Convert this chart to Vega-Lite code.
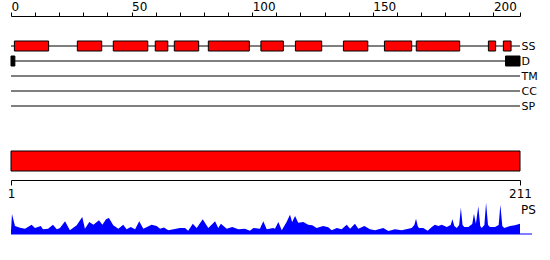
{
  "$schema": "https://vega.github.io/schema/vega-lite/v6.json",
  "autosize": {"type": "pad"},
  "padding": {"left": 7, "top": 0, "right": 0, "bottom": 0},
  "background": "white",
  "spacing": 2,
  "config": {
    "view": {"stroke": null},
    "font": "DejaVu Sans",
    "axis": {"domainColor": "black", "tickColor": "black", "labelColor": "black", "grid": false, "title": null, "labelFont": "DejaVu Sans", "labelOverlap": false},
    "axisTop": {"labelOverlap": false}
  },
  "resolve": {"scale": {"x": "independent", "y": "independent"}},
  "datasets": {
    "tracks": [
      {"track": "SS"}, {"track": "D"}, {"track": "TM"}, {"track": "CC"}, {"track": "SP"}
    ],
    "features": [
      {"track": "SS", "kind": "helix", "start": 1.4, "end": 15.6},
      {"track": "SS", "kind": "helix", "start": 27.5, "end": 37.6},
      {"track": "SS", "kind": "helix", "start": 42.4, "end": 56.7},
      {"track": "SS", "kind": "helix", "start": 59.8, "end": 65.0},
      {"track": "SS", "kind": "helix", "start": 67.7, "end": 77.8},
      {"track": "SS", "kind": "helix", "start": 81.8, "end": 98.8},
      {"track": "SS", "kind": "helix", "start": 103.6, "end": 112.9},
      {"track": "SS", "kind": "helix", "start": 117.9, "end": 128.8},
      {"track": "SS", "kind": "helix", "start": 137.8, "end": 147.9},
      {"track": "SS", "kind": "helix", "start": 154.8, "end": 166.1},
      {"track": "SS", "kind": "helix", "start": 168.0, "end": 186.0},
      {"track": "SS", "kind": "helix", "start": 197.9, "end": 200.9},
      {"track": "SS", "kind": "helix", "start": 204.1, "end": 207.3},
      {"track": "D", "kind": "disorder", "start": 0, "end": 1.6},
      {"track": "D", "kind": "disorder", "start": 205, "end": 211}
    ],
    "protein": [{"start": 1, "end": 211}],
    "ps": [
      {"pos": 1, "h": 3}, {"pos": 1.4, "h": 20}, {"pos": 2.65, "h": 8}, {"pos": 4.7, "h": 6.3},
      {"pos": 6.8, "h": 5.3}, {"pos": 9.5, "h": 9.3}, {"pos": 10.9, "h": 6}, {"pos": 13.3, "h": 8},
      {"pos": 14.2, "h": 4.7}, {"pos": 16.3, "h": 5.3}, {"pos": 18.3, "h": 9.3}, {"pos": 19.9, "h": 4.7},
      {"pos": 21.2, "h": 6}, {"pos": 23.3, "h": 12.7}, {"pos": 25.3, "h": 3.7}, {"pos": 28.1, "h": 8.7},
      {"pos": 30.4, "h": 17}, {"pos": 31.5, "h": 5.3}, {"pos": 33.3, "h": 12}, {"pos": 35.0, "h": 9.3},
      {"pos": 37.3, "h": 13.7}, {"pos": 38.7, "h": 9.3}, {"pos": 40.2, "h": 14.7}, {"pos": 41.4, "h": 16},
      {"pos": 43.2, "h": 8.7}, {"pos": 45.3, "h": 5.3}, {"pos": 47.3, "h": 9.3}, {"pos": 48.7, "h": 4.7},
      {"pos": 50.4, "h": 7}, {"pos": 52.2, "h": 4.7}, {"pos": 53.9, "h": 12.7}, {"pos": 55.6, "h": 5.3},
      {"pos": 59.0, "h": 9.3}, {"pos": 61.1, "h": 8}, {"pos": 62.5, "h": 5.3}, {"pos": 64.1, "h": 6.5},
      {"pos": 65.9, "h": 3.7}, {"pos": 70.7, "h": 6}, {"pos": 72.8, "h": 6}, {"pos": 74.1, "h": 3.3},
      {"pos": 76.0, "h": 10.3}, {"pos": 77.6, "h": 6}, {"pos": 80.1, "h": 14.7}, {"pos": 82.4, "h": 6},
      {"pos": 85.2, "h": 12.7}, {"pos": 86.5, "h": 6}, {"pos": 87.6, "h": 10.3}, {"pos": 90.0, "h": 5.3},
      {"pos": 92.3, "h": 7}, {"pos": 94.8, "h": 4.7}, {"pos": 97.5, "h": 5.3}, {"pos": 99.6, "h": 3.3},
      {"pos": 101.0, "h": 6}, {"pos": 103.7, "h": 5.3}, {"pos": 105.1, "h": 12.7}, {"pos": 106.5, "h": 4.7},
      {"pos": 109.2, "h": 6}, {"pos": 109.9, "h": 5.3}, {"pos": 111.3, "h": 12}, {"pos": 112.7, "h": 3.7},
      {"pos": 114.7, "h": 12}, {"pos": 116.1, "h": 19.3}, {"pos": 117.0, "h": 12}, {"pos": 118.2, "h": 18},
      {"pos": 119.5, "h": 11.3}, {"pos": 121.6, "h": 12}, {"pos": 123.6, "h": 9.3}, {"pos": 125.3, "h": 8.7},
      {"pos": 127.1, "h": 6}, {"pos": 129.8, "h": 8}, {"pos": 131.9, "h": 6.7}, {"pos": 133.3, "h": 3.7},
      {"pos": 135.4, "h": 6}, {"pos": 137.4, "h": 4.7}, {"pos": 139.5, "h": 9.3}, {"pos": 140.9, "h": 5.3},
      {"pos": 142.9, "h": 10.3}, {"pos": 144.3, "h": 5.3}, {"pos": 146.8, "h": 8}, {"pos": 149.1, "h": 4.7},
      {"pos": 151.2, "h": 3.7}, {"pos": 154.6, "h": 6}, {"pos": 156.7, "h": 3}, {"pos": 159.4, "h": 4.7},
      {"pos": 162.2, "h": 3.7}, {"pos": 164.9, "h": 5.3}, {"pos": 166.3, "h": 6}, {"pos": 167.4, "h": 9},
      {"pos": 168.1, "h": 15.3}, {"pos": 168.8, "h": 8}, {"pos": 169.3, "h": 6}, {"pos": 171.1, "h": 6},
      {"pos": 172.9, "h": 3.3}, {"pos": 174.6, "h": 7}, {"pos": 175.9, "h": 9.3}, {"pos": 177.3, "h": 8},
      {"pos": 178.7, "h": 9.3}, {"pos": 180.8, "h": 7}, {"pos": 182.4, "h": 9}, {"pos": 183.1, "h": 14.7},
      {"pos": 183.9, "h": 8}, {"pos": 184.9, "h": 6}, {"pos": 185.9, "h": 9}, {"pos": 186.6, "h": 26.3},
      {"pos": 187.3, "h": 9}, {"pos": 188.0, "h": 7}, {"pos": 189.7, "h": 7}, {"pos": 191.3, "h": 10},
      {"pos": 192.0, "h": 20.3}, {"pos": 192.8, "h": 10.3}, {"pos": 193.8, "h": 27.7}, {"pos": 194.6, "h": 8},
      {"pos": 195.2, "h": 6}, {"pos": 196.3, "h": 9}, {"pos": 197.0, "h": 31.3}, {"pos": 197.8, "h": 9},
      {"pos": 198.6, "h": 7}, {"pos": 200.7, "h": 7}, {"pos": 202.2, "h": 9}, {"pos": 202.9, "h": 29.3},
      {"pos": 203.7, "h": 8}, {"pos": 204.5, "h": 6}, {"pos": 206.9, "h": 8}, {"pos": 208.9, "h": 8.7},
      {"pos": 211, "h": 10.3}
    ],
    "pslabel": [{"label": "PS"}]
  },
  "vconcat": [
    {
      "width": 509,
      "height": 132,
      "layer": [
        {
          "data": {"name": "tracks"},
          "mark": {"type": "rule", "color": "black", "strokeWidth": 1},
          "encoding": {
            "x": {"datum": 0, "type": "quantitative",
              "scale": {"domain": [0, 211], "nice": false, "zero": false},
              "axis": {"orient": "top", "values": [0,10,20,30,40,50,60,70,80,90,100,110,120,130,140,150,160,170,180,190,200,211],
                "labelExpr": "datum.value % 50 == 0 ? datum.label : ''",
                "labelAlign": "left", "labelPadding": -1, "tickSize": 4, "labelFontSize": 12,
                "labelOverlap": false, "labelFlush": false, "labelBound": false, "domainWidth": 1}},
            "x2": {"datum": 211},
            "y": {"field": "track", "type": "nominal",
              "scale": {"type": "point", "domain": ["SS", "D", "TM", "CC", "SP"], "range": [30, 90], "padding": 0},
              "axis": {"orient": "right", "ticks": false, "domain": false, "labelPadding": 1, "labelFontSize": 11}}
          }
        },
        {
          "data": {"name": "features"},
          "mark": {"type": "bar", "height": 10, "stroke": "black", "strokeWidth": 1},
          "encoding": {
            "x": {"field": "start", "type": "quantitative", "scale": {"domain": [0, 211], "nice": false, "zero": false},
              "axis": {"orient": "top", "values": [0,10,20,30,40,50,60,70,80,90,100,110,120,130,140,150,160,170,180,190,200,211],
                "labelExpr": "datum.value % 50 == 0 ? datum.label : ''",
                "labelAlign": "left", "labelPadding": -1, "tickSize": 4, "labelFontSize": 12,
                "labelOverlap": false, "labelFlush": false, "labelBound": false, "domainWidth": 1}},
            "x2": {"field": "end"},
            "y": {"field": "track", "type": "nominal",
              "scale": {"type": "point", "domain": ["SS", "D", "TM", "CC", "SP"], "range": [30, 90], "padding": 0}},
            "color": {"field": "kind", "type": "nominal",
              "scale": {"domain": ["helix", "disorder"], "range": ["#ff0000", "#000000"]}, "legend": null}
          }
        }
      ]
    },
    {
      "width": 509,
      "height": 20,
      "data": {"name": "protein"},
      "mark": {"type": "rect", "color": "#ff0000", "stroke": "black", "strokeWidth": 1},
      "encoding": {
        "x": {"field": "start", "type": "quantitative",
          "scale": {"domain": [1, 211], "nice": false, "zero": false},
          "axis": {"orient": "bottom", "values": [1, 211], "offset": 9, "tickSize": 5, "labelPadding": 3,
            "labelFontSize": 12, "labelFlush": false, "labelOverlap": false}},
        "x2": {"field": "end"}
      }
    },
    {
      "width": 509,
      "height": 33,
      "layer": [
        {
          "data": {"name": "ps"},
          "mark": {"type": "area", "color": "#0000ff", "interpolate": "linear"},
          "encoding": {
            "x": {"field": "pos", "type": "quantitative", "scale": {"domain": [1, 211], "nice": false, "zero": false}, "axis": null},
            "y": {"field": "h", "type": "quantitative", "scale": {"domain": [0, 33], "nice": false}, "axis": null}
          }
        },
        {
          "data": {"name": "pslabel"},
          "mark": {"type": "rule", "color": "#0000ff", "strokeWidth": 1},
          "encoding": {
            "x": {"datum": 1, "type": "quantitative"},
            "x2": {"datum": 216},
            "y": {"datum": 0, "type": "quantitative"}
          }
        },
        {
          "data": {"name": "pslabel"},
          "mark": {"type": "text", "align": "left", "baseline": "middle", "dx": 1, "fontSize": 12, "color": "black"},
          "encoding": {
            "x": {"datum": 211, "type": "quantitative"},
            "y": {"datum": 24.5, "type": "quantitative"},
            "text": {"field": "label"}
          }
        }
      ]
    }
  ]
}
